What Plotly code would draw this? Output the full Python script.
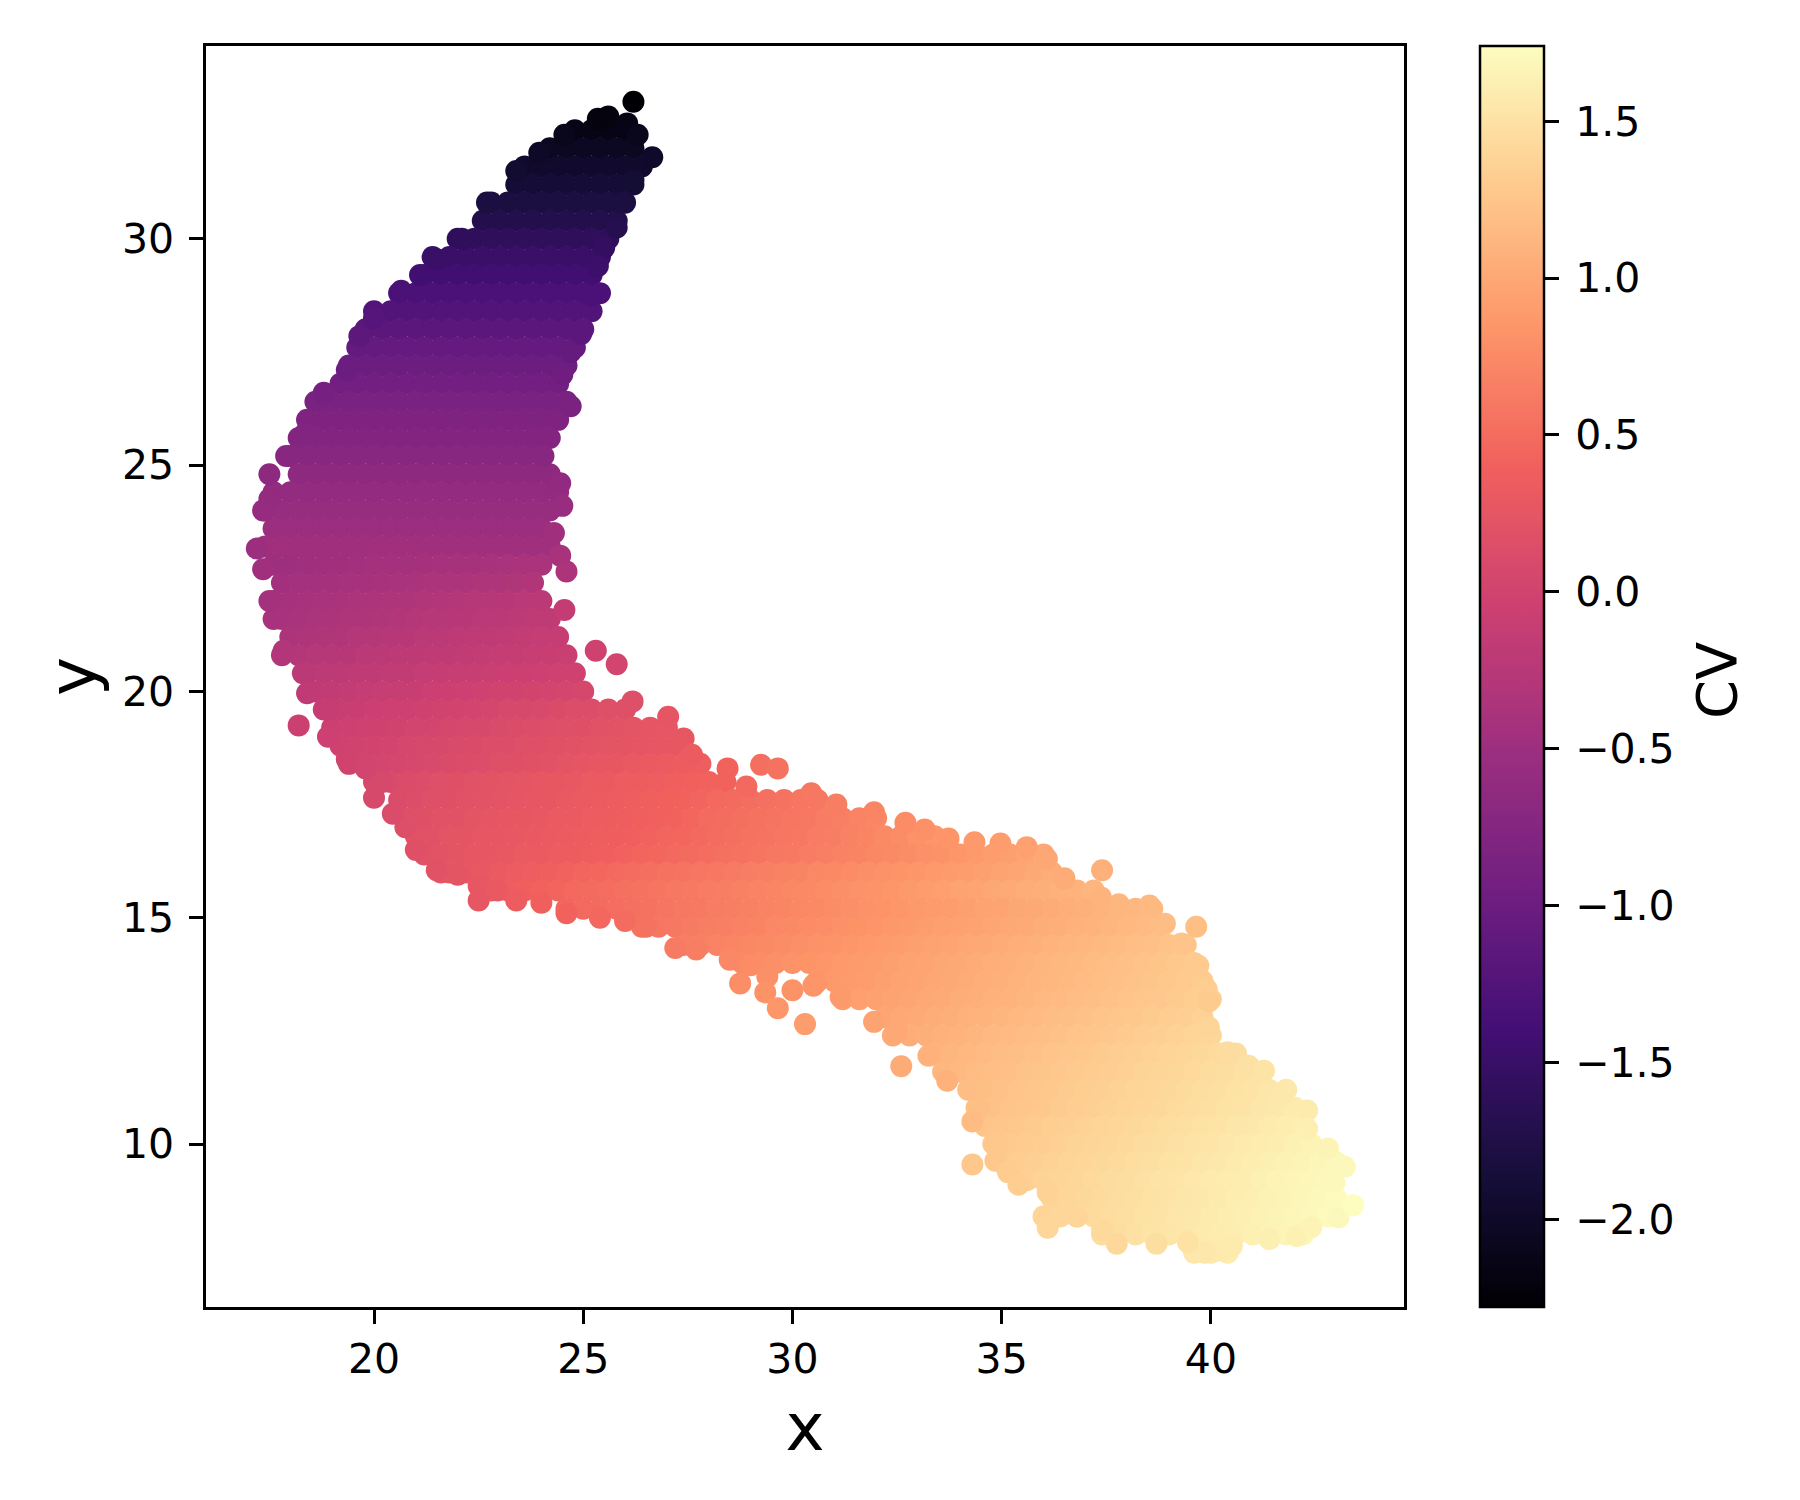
# -*- coding: utf-8 -*-
"""Scatter of x against y, coloured by CV (values read off the picture row by row)."""

import plotly.graph_objects as go

x_ticks = [20, 25, 30, 35, 40]
y_ticks = [10, 15, 20, 25, 30]
cv_ticks = [-2.0, -1.5, -1.0, -0.5, 0.0, 0.5, 1.0, 1.5]

# upper arm: every point of a row has about the same CV
upper_y = [32.4, 32.0, 31.6, 31.2, 30.8, 30.4, 30.0, 29.6, 29.2, 28.8, 28.4, 28.0,
           27.6, 27.2, 26.8, 26.4, 26.0, 25.6, 25.2, 24.8, 24.4, 24.0, 23.6, 23.2]
upper_cv = [-2.15, -2.05, -1.97, -1.88, -1.80, -1.72, -1.60, -1.50, -1.42, -1.32, -1.25, -1.15,
            -1.08, -1.00, -0.93, -0.87, -0.82, -0.77, -0.72, -0.66, -0.61, -0.56, -0.52, -0.47]
upper_x = [
    [24.8, 25.2, 25.6, 26.0],
    [24.2, 24.6, 25.0, 25.4, 25.8, 26.2],
    [23.6, 24.0, 24.4, 24.8, 25.2, 25.6, 26.0, 26.4],
    [23.4, 23.8, 24.2, 24.6, 25.0, 25.4, 25.8, 26.2],
    [22.8, 23.2, 23.6, 24.0, 24.4, 24.8, 25.2, 25.6, 26.0],
    [22.6, 23.0, 23.4, 23.8, 24.2, 24.6, 25.0, 25.4, 25.8],
    [22.0, 22.4, 22.8, 23.2, 23.6, 24.0, 24.4, 24.8, 25.2, 25.6],
    [21.4, 21.8, 22.2, 22.6, 23.0, 23.4, 23.8, 24.2, 24.6, 25.0, 25.4],
    [21.2, 21.6, 22.0, 22.4, 22.8, 23.2, 23.6, 24.0, 24.4, 24.8, 25.2],
    [20.6, 21.0, 21.4, 21.8, 22.2, 22.6, 23.0, 23.4, 23.8, 24.2, 24.6, 25.0, 25.4],
    [20.0, 20.4, 20.8, 21.2, 21.6, 22.0, 22.4, 22.8, 23.2, 23.6, 24.0, 24.4, 24.8, 25.2],
    [19.8, 20.2, 20.6, 21.0, 21.4, 21.8, 22.2, 22.6, 23.0, 23.4, 23.8, 24.2, 24.6, 25.0],
    [19.6, 20.0, 20.4, 20.8, 21.2, 21.6, 22.0, 22.4, 22.8, 23.2, 23.6, 24.0, 24.4, 24.8],
    [19.4, 19.8, 20.2, 20.6, 21.0, 21.4, 21.8, 22.2, 22.6, 23.0, 23.4, 23.8, 24.2, 24.6],
    [19.2, 19.6, 20.0, 20.4, 20.8, 21.2, 21.6, 22.0, 22.4, 22.8, 23.2, 23.6, 24.0, 24.4],
    [18.6, 19.0, 19.4, 19.8, 20.2, 20.6, 21.0, 21.4, 21.8, 22.2, 22.6, 23.0, 23.4, 23.8, 24.2, 24.6],
    [18.4, 18.8, 19.2, 19.6, 20.0, 20.4, 20.8, 21.2, 21.6, 22.0, 22.4, 22.8, 23.2, 23.6, 24.0, 24.4],
    [18.2, 18.6, 19.0, 19.4, 19.8, 20.2, 20.6, 21.0, 21.4, 21.8, 22.2, 22.6, 23.0, 23.4, 23.8, 24.2],
    [18.0, 18.4, 18.8, 19.2, 19.6, 20.0, 20.4, 20.8, 21.2, 21.6, 22.0, 22.4, 22.8, 23.2, 23.6, 24.0],
    [18.2, 18.6, 19.0, 19.4, 19.8, 20.2, 20.6, 21.0, 21.4, 21.8, 22.2, 22.6, 23.0, 23.4, 23.8, 24.2],
    [17.6, 18.0, 18.4, 18.8, 19.2, 19.6, 20.0, 20.4, 20.8, 21.2, 21.6, 22.0, 22.4, 22.8, 23.2, 23.6, 24.0, 24.4],
    [17.4, 17.8, 18.2, 18.6, 19.0, 19.4, 19.8, 20.2, 20.6, 21.0, 21.4, 21.8, 22.2, 22.6, 23.0, 23.4, 23.8, 24.2],
    [17.6, 18.0, 18.4, 18.8, 19.2, 19.6, 20.0, 20.4, 20.8, 21.2, 21.6, 22.0, 22.4, 22.8, 23.2, 23.6, 24.0],
    [17.4, 17.8, 18.2, 18.6, 19.0, 19.4, 19.8, 20.2, 20.6, 21.0, 21.4, 21.8, 22.2, 22.6, 23.0, 23.4, 23.8, 24.2],
]

# bend and lower arm: CV changes along each row
lower_y = [22.8, 22.4, 22.0, 21.6, 21.2, 20.8, 20.4, 20.0, 19.6, 19.2, 18.8, 18.4, 18.0, 17.6, 17.2, 16.8,
           16.4, 16.0, 15.6, 15.2, 14.8, 14.4, 14.0, 13.6, 13.2, 12.8, 12.4, 12.0, 11.6, 11.2, 10.8, 10.4,
           10.0, 9.6, 9.2, 8.8, 8.4, 8.0, 7.6]
lower_x = [
    [17.6, 18.0, 18.4, 18.8, 19.2, 19.6, 20.0, 20.4, 20.8, 21.2, 21.6, 22.0, 22.4, 22.8, 23.2, 23.6, 24.0],
    [17.8, 18.2, 18.6, 19.0, 19.4, 19.8, 20.2, 20.6, 21.0, 21.4, 21.8, 22.2, 22.6, 23.0, 23.4, 23.8],
    [17.6, 18.0, 18.4, 18.8, 19.2, 19.6, 20.0, 20.4, 20.8, 21.2, 21.6, 22.0, 22.4, 22.8, 23.2, 23.6, 24.0],
    [17.8, 18.2, 18.6, 19.0, 19.4, 19.8, 20.2, 20.6, 21.0, 21.4, 21.8, 22.2, 22.6, 23.0, 23.4, 23.8, 24.2],
    [18.0, 18.4, 18.8, 19.2, 19.6, 20.0, 20.4, 20.8, 21.2, 21.6, 22.0, 22.4, 22.8, 23.2, 23.6, 24.0, 24.4],
    [17.8, 18.2, 18.6, 19.0, 19.4, 19.8, 20.2, 20.6, 21.0, 21.4, 21.8, 22.2, 22.6, 23.0, 23.4, 23.8, 24.2, 24.6],
    [18.4, 18.8, 19.2, 19.6, 20.0, 20.4, 20.8, 21.2, 21.6, 22.0, 22.4, 22.8, 23.2, 23.6, 24.0, 24.4, 24.8],
    [18.6, 19.0, 19.4, 19.8, 20.2, 20.6, 21.0, 21.4, 21.8, 22.2, 22.6, 23.0, 23.4, 23.8, 24.2, 24.6, 25.0],
    [18.8, 19.2, 19.6, 20.0, 20.4, 20.8, 21.2, 21.6, 22.0, 22.4, 22.8, 23.2, 23.6, 24.0, 24.4, 24.8, 25.2, 25.6, 26.0],
    [19.0, 19.4, 19.8, 20.2, 20.6, 21.0, 21.4, 21.8, 22.2, 22.6, 23.0, 23.4, 23.8, 24.2, 24.6, 25.0, 25.4, 25.8, 26.2, 26.6, 27.0],
    [19.2, 19.6, 20.0, 20.4, 20.8, 21.2, 21.6, 22.0, 22.4, 22.8, 23.2, 23.6, 24.0, 24.4, 24.8, 25.2, 25.6, 26.0, 26.4, 26.8, 27.2],
    [19.4, 19.8, 20.2, 20.6, 21.0, 21.4, 21.8, 22.2, 22.6, 23.0, 23.4, 23.8, 24.2, 24.6, 25.0, 25.4, 25.8, 26.2, 26.6, 27.0, 27.4, 27.8],
    [20.0, 20.4, 20.8, 21.2, 21.6, 22.0, 22.4, 22.8, 23.2, 23.6, 24.0, 24.4, 24.8, 25.2, 25.6, 26.0, 26.4, 26.8, 27.2, 27.6, 28.0, 28.4],
    [20.6, 21.0, 21.4, 21.8, 22.2, 22.6, 23.0, 23.4, 23.8, 24.2, 24.6, 25.0, 25.4, 25.8, 26.2, 26.6, 27.0, 27.4, 27.8, 28.2, 28.6, 29.0, 29.4, 29.8, 30.2, 30.6],
    [20.8, 21.2, 21.6, 22.0, 22.4, 22.8, 23.2, 23.6, 24.0, 24.4, 24.8, 25.2, 25.6, 26.0, 26.4, 26.8, 27.2, 27.6, 28.0, 28.4, 28.8, 29.2, 29.6, 30.0, 30.4, 30.8, 31.2, 31.6, 32.0],
    [21.0, 21.4, 21.8, 22.2, 22.6, 23.0, 23.4, 23.8, 24.2, 24.6, 25.0, 25.4, 25.8, 26.2, 26.6, 27.0, 27.4, 27.8, 28.2, 28.6, 29.0, 29.4, 29.8, 30.2, 30.6, 31.0, 31.4, 31.8, 32.2, 32.6, 33.0, 33.4],
    [21.2, 21.6, 22.0, 22.4, 22.8, 23.2, 23.6, 24.0, 24.4, 24.8, 25.2, 25.6, 26.0, 26.4, 26.8, 27.2, 27.6, 28.0, 28.4, 28.8, 29.2, 29.6, 30.0, 30.4, 30.8, 31.2, 31.6, 32.0, 32.4, 32.8, 33.2, 33.6, 34.0, 34.4, 34.8, 35.2, 35.6, 36.0],
    [21.6, 21.8, 22.2, 22.6, 23.0, 23.4, 23.8, 24.2, 24.6, 25.0, 25.4, 25.8, 26.2, 26.6, 27.0, 27.4, 27.8, 28.2, 28.6, 29.0, 29.4, 29.8, 30.2, 30.6, 31.0, 31.4, 31.8, 32.2, 32.6, 33.0, 33.4, 33.8, 34.2, 34.6, 35.0, 35.4, 35.8, 36.2],
    [22.8, 23.2, 23.6, 24.0, 24.4, 24.8, 25.2, 25.6, 26.0, 26.4, 26.8, 27.2, 27.6, 28.0, 28.4, 28.8, 29.2, 29.6, 30.0, 30.4, 30.8, 31.2, 31.6, 32.0, 32.4, 32.8, 33.2, 33.6, 34.0, 34.4, 34.8, 35.2, 35.6, 36.0, 36.4, 36.8, 37.2],
    [24.6, 25.0, 25.4, 25.8, 26.2, 26.6, 27.0, 27.4, 27.8, 28.2, 28.6, 29.0, 29.4, 29.8, 30.2, 30.6, 31.0, 31.4, 31.8, 32.2, 32.6, 33.0, 33.4, 33.8, 34.2, 34.6, 35.0, 35.4, 35.8, 36.2, 36.6, 37.0, 37.4, 37.8, 38.2, 38.6],
    [26.4, 26.8, 27.2, 27.6, 28.0, 28.4, 28.8, 29.2, 29.6, 30.0, 30.4, 30.8, 31.2, 31.6, 32.0, 32.4, 32.8, 33.2, 33.6, 34.0, 34.4, 34.8, 35.2, 35.6, 36.0, 36.4, 36.8, 37.2, 37.6, 38.0, 38.4, 38.8],
    [27.4, 27.8, 28.2, 28.6, 29.0, 29.4, 29.8, 30.2, 30.6, 31.0, 31.4, 31.8, 32.2, 32.6, 33.0, 33.4, 33.8, 34.2, 34.6, 35.0, 35.4, 35.8, 36.2, 36.6, 37.0, 37.4, 37.8, 38.2, 38.6, 39.0, 39.4],
    [28.8, 29.2, 29.6, 30.0, 30.4, 30.8, 31.2, 31.6, 32.0, 32.4, 32.8, 33.2, 33.6, 34.0, 34.4, 34.8, 35.2, 35.6, 36.0, 36.4, 36.8, 37.2, 37.6, 38.0, 38.4, 38.8, 39.2, 39.6],
    [30.6, 31.0, 31.4, 31.8, 32.2, 32.6, 33.0, 33.4, 33.8, 34.2, 34.6, 35.0, 35.4, 35.8, 36.2, 36.6, 37.0, 37.4, 37.8, 38.2, 38.6, 39.0, 39.4, 39.8],
    [31.2, 31.6, 32.0, 32.4, 32.8, 33.2, 33.6, 34.0, 34.4, 34.8, 35.2, 35.6, 36.0, 36.4, 36.8, 37.2, 37.6, 38.0, 38.4, 38.8, 39.2, 39.6, 40.0],
    [32.2, 32.6, 33.0, 33.4, 33.8, 34.2, 34.6, 35.0, 35.4, 35.8, 36.2, 36.6, 37.0, 37.4, 37.8, 38.2, 38.6, 39.0, 39.4, 39.8],
    [32.4, 32.8, 33.2, 33.6, 34.0, 34.4, 34.8, 35.2, 35.6, 36.0, 36.4, 36.8, 37.2, 37.6, 38.0, 38.4, 38.8, 39.2, 39.6, 40.0],
    [33.4, 33.8, 34.2, 34.6, 35.0, 35.4, 35.8, 36.2, 36.6, 37.0, 37.4, 37.8, 38.2, 38.6, 39.0, 39.4, 39.8, 40.2, 40.6],
    [33.6, 34.0, 34.4, 34.8, 35.2, 35.6, 36.0, 36.4, 36.8, 37.2, 37.6, 38.0, 38.4, 38.8, 39.2, 39.6, 40.0, 40.4, 40.8, 41.2],
    [34.2, 34.6, 35.0, 35.4, 35.8, 36.2, 36.6, 37.0, 37.4, 37.8, 38.2, 38.6, 39.0, 39.4, 39.8, 40.2, 40.6, 41.0, 41.4, 41.8],
    [34.4, 34.8, 35.2, 35.6, 36.0, 36.4, 36.8, 37.2, 37.6, 38.0, 38.4, 38.8, 39.2, 39.6, 40.0, 40.4, 40.8, 41.2, 41.6, 42.0],
    [34.6, 35.0, 35.4, 35.8, 36.2, 36.6, 37.0, 37.4, 37.8, 38.2, 38.6, 39.0, 39.4, 39.8, 40.2, 40.6, 41.0, 41.4, 41.8, 42.2],
    [34.8, 35.2, 35.6, 36.0, 36.4, 36.8, 37.2, 37.6, 38.0, 38.4, 38.8, 39.2, 39.6, 40.0, 40.4, 40.8, 41.2, 41.6, 42.0, 42.4],
    [35.0, 35.4, 35.8, 36.2, 36.6, 37.0, 37.4, 37.8, 38.2, 38.6, 39.0, 39.4, 39.8, 40.2, 40.6, 41.0, 41.4, 41.8, 42.2, 42.6, 43.0],
    [35.6, 36.0, 36.4, 36.8, 37.2, 37.6, 38.0, 38.4, 38.8, 39.2, 39.6, 40.0, 40.4, 40.8, 41.2, 41.6, 42.0, 42.4, 42.8],
    [36.2, 36.6, 37.0, 37.4, 37.8, 38.2, 38.6, 39.0, 39.4, 39.8, 40.2, 40.6, 41.0, 41.4, 41.8, 42.2, 42.6, 43.0],
    [36.0, 36.4, 36.8, 37.2, 37.6, 38.0, 38.4, 38.8, 39.2, 39.6, 40.0, 40.4, 40.8, 41.2, 41.6, 42.0, 42.4, 42.8],
    [37.4, 37.8, 38.2, 38.6, 39.0, 39.4, 39.8, 40.2, 40.6, 41.0, 41.4, 41.8, 42.2],
    [39.6, 40.0, 40.4],
]
lower_cv = [
    [-.50, -.49, -.48, -.47, -.47, -.46, -.45, -.44, -.44, -.43, -.42, -.41, -.41, -.40, -.39, -.38, -.38],
    [-.46, -.45, -.44, -.43, -.42, -.41, -.40, -.39, -.38, -.37, -.36, -.35, -.34, -.33, -.32, -.31],
    [-.43, -.42, -.40, -.39, -.38, -.36, -.35, -.34, -.33, -.31, -.30, -.29, -.27, -.26, -.25, -.23, -.22],
    [-.40, -.39, -.37, -.36, -.34, -.33, -.32, -.30, -.29, -.27, -.26, -.25, -.23, -.22, -.20, -.19, -.18],
    [-.35, -.34, -.32, -.31, -.29, -.28, -.26, -.25, -.23, -.22, -.20, -.19, -.17, -.16, -.14, -.13, -.12],
    [-.30, -.29, -.27, -.26, -.25, -.23, -.22, -.21, -.20, -.18, -.17, -.16, -.14, -.13, -.12, -.11, -.09, -.08],
    [-.22, -.21, -.20, -.18, -.17, -.16, -.15, -.13, -.12, -.11, -.10, -.08, -.07, -.06, -.05, -.03, -.02],
    [-.17, -.16, -.14, -.13, -.11, -.10, -.09, -.07, -.06, -.04, -.03, -.01, .00, .01, .03, .04, .05],
    [-.12, -.10, -.09, -.07, -.05, -.04, -.02, -.01, .01, .03, .04, .06, .08, .09, .11, .13, .14, .16, .18],
    [-.07, -.05, -.03, -.02, .00, .02, .03, .05, .07, .08, .10, .12, .13, .15, .17, .18, .20, .22, .23, .25, .26],
    [-.02, .00, .01, .03, .05, .06, .08, .10, .11, .13, .14, .16, .18, .19, .21, .22, .23, .24, .25, .26, .28],
    [.00, .02, .04, .05, .07, .09, .11, .12, .14, .16, .18, .19, .21, .23, .25, .26, .28, .30, .32, .33, .35, .36],
    [.08, .10, .12, .14, .16, .18, .20, .22, .23, .25, .26, .28, .29, .31, .32, .34, .35, .36, .38, .40, .41, .42],
    [.12, .14, .16, .18, .20, .22, .23, .25, .27, .28, .30, .31, .33, .34, .36, .38, .40, .42, .44, .47, .49, .51, .53, .55, .58, .60],
    [.16, .18, .20, .21, .23, .25, .26, .28, .29, .31, .32, .34, .35, .36, .38, .40, .42, .45, .48, .50, .52, .54, .56, .58, .60, .63, .66, .69, .72],
    [.20, .21, .23, .24, .26, .27, .29, .30, .32, .33, .34, .36, .37, .39, .41, .43, .45, .47, .50, .52, .54, .56, .58, .60, .63, .65, .68, .71, .74, .77, .81, .85],
    [.20, .22, .24, .26, .27, .29, .31, .32, .34, .35, .37, .39, .41, .43, .45, .47, .49, .51, .53, .55, .57, .59, .61, .63, .66, .68, .70, .73, .75, .77, .80, .82, .85, .88, .90, .93, .97, 1.00],
    [.24, .25, .27, .29, .31, .34, .36, .38, .41, .43, .45, .47, .50, .52, .54, .56, .58, .60, .62, .64, .66, .68, .70, .72, .74, .76, .79, .81, .83, .85, .87, .89, .91, .93, .96, .98, 1.01, 1.04],
    [.33, .36, .39, .42, .44, .47, .49, .51, .53, .55, .57, .59, .61, .63, .65, .67, .69, .71, .73, .75, .77, .79, .81, .83, .85, .88, .90, .92, .95, .97, .99, 1.02, 1.04, 1.06, 1.08, 1.10, 1.12],
    [.45, .47, .49, .51, .53, .55, .57, .59, .61, .63, .65, .67, .69, .71, .73, .75, .77, .79, .81, .83, .85, .87, .89, .91, .93, .95, .97, .99, 1.01, 1.03, 1.05, 1.07, 1.09, 1.11, 1.13, 1.15],
    [.56, .58, .60, .62, .64, .66, .68, .70, .72, .74, .76, .78, .80, .82, .84, .86, .88, .90, .92, .94, .96, .98, 1.00, 1.02, 1.04, 1.06, 1.08, 1.10, 1.12, 1.14, 1.16, 1.18],
    [.65, .67, .69, .71, .73, .75, .77, .79, .81, .83, .85, .87, .89, .91, .93, .95, .97, .99, 1.01, 1.03, 1.05, 1.07, 1.09, 1.11, 1.13, 1.15, 1.17, 1.19, 1.21, 1.23, 1.25],
    [.75, .77, .79, .81, .83, .85, .87, .89, .91, .93, .95, .97, .99, 1.01, 1.03, 1.05, 1.07, 1.09, 1.11, 1.13, 1.15, 1.17, 1.19, 1.21, 1.23, 1.25, 1.28, 1.30],
    [.85, .87, .89, .91, .93, .95, .97, .99, 1.01, 1.03, 1.05, 1.07, 1.09, 1.11, 1.13, 1.15, 1.17, 1.19, 1.21, 1.23, 1.25, 1.27, 1.29, 1.31],
    [.90, .92, .94, .96, .98, 1.00, 1.02, 1.04, 1.06, 1.08, 1.10, 1.12, 1.14, 1.16, 1.18, 1.20, 1.22, 1.24, 1.26, 1.28, 1.30, 1.32, 1.34],
    [.98, 1.00, 1.02, 1.04, 1.06, 1.08, 1.10, 1.12, 1.14, 1.16, 1.18, 1.20, 1.22, 1.24, 1.26, 1.28, 1.30, 1.32, 1.34, 1.36],
    [1.02, 1.04, 1.06, 1.08, 1.10, 1.12, 1.14, 1.16, 1.18, 1.20, 1.22, 1.24, 1.26, 1.28, 1.30, 1.32, 1.34, 1.36, 1.38, 1.40],
    [1.10, 1.12, 1.14, 1.16, 1.18, 1.20, 1.22, 1.24, 1.26, 1.28, 1.30, 1.32, 1.34, 1.36, 1.38, 1.40, 1.42, 1.44, 1.46],
    [1.13, 1.15, 1.17, 1.19, 1.21, 1.23, 1.25, 1.27, 1.29, 1.31, 1.33, 1.35, 1.37, 1.39, 1.41, 1.43, 1.45, 1.47, 1.49, 1.51],
    [1.18, 1.20, 1.22, 1.24, 1.26, 1.28, 1.30, 1.32, 1.34, 1.36, 1.38, 1.40, 1.42, 1.44, 1.46, 1.48, 1.50, 1.52, 1.54, 1.56],
    [1.20, 1.22, 1.24, 1.26, 1.28, 1.30, 1.32, 1.34, 1.36, 1.38, 1.40, 1.42, 1.44, 1.46, 1.48, 1.50, 1.52, 1.54, 1.56, 1.58],
    [1.24, 1.26, 1.28, 1.30, 1.32, 1.34, 1.36, 1.38, 1.40, 1.42, 1.44, 1.46, 1.48, 1.50, 1.52, 1.54, 1.56, 1.58, 1.60, 1.62],
    [1.27, 1.29, 1.31, 1.33, 1.35, 1.37, 1.39, 1.41, 1.43, 1.45, 1.47, 1.49, 1.51, 1.53, 1.55, 1.57, 1.59, 1.61, 1.63, 1.65],
    [1.30, 1.32, 1.34, 1.36, 1.38, 1.40, 1.42, 1.44, 1.46, 1.48, 1.50, 1.52, 1.54, 1.56, 1.58, 1.60, 1.62, 1.64, 1.66, 1.68, 1.70],
    [1.35, 1.37, 1.39, 1.41, 1.43, 1.45, 1.47, 1.49, 1.51, 1.53, 1.55, 1.57, 1.59, 1.61, 1.63, 1.65, 1.67, 1.69, 1.70],
    [1.38, 1.40, 1.42, 1.44, 1.46, 1.48, 1.50, 1.52, 1.54, 1.56, 1.58, 1.60, 1.62, 1.64, 1.66, 1.68, 1.70, 1.72],
    [1.38, 1.40, 1.42, 1.44, 1.46, 1.48, 1.50, 1.52, 1.54, 1.56, 1.58, 1.60, 1.62, 1.64, 1.66, 1.68, 1.70, 1.71],
    [1.45, 1.47, 1.49, 1.51, 1.53, 1.55, 1.57, 1.59, 1.61, 1.63, 1.65, 1.67, 1.68],
    [1.55, 1.57, 1.59],
]

# points along the outline of the cloud
edge_x = [26.18, 27.03, 27.4, 27.6, 28.9, 30.45, 31.05, 31.95, 32.7, 33.16, 33.73, 34.35, 34.97, 35.6, 36.08, 36.5,
          37.37, 37.8, 38.53, 38.9, 39.3, 39.7, 39.9, 39.95, 40.4, 40.9, 41.27, 41.7, 42.3, 42.3, 42.8, 42.95,
          30.55, 31.95, 32.5, 33.25, 34.45, 34.9, 34.85, 35.15, 35.4, 36.1, 36.8, 37.4, 40.2, 39.85, 40.5,
          26.0, 26.5, 27.2, 27.7, 28.5, 29.0, 29.4, 30.0, 30.5, 25.4, 24.6,
          17.84, 18.3, 18.4, 18.9, 19.35, 19.8, 20.2, 20.75, 22.1, 21.1, 19.35, 18.35, 17.6,
          26.2, 25.8, 25.5, 25.35, 25.2, 24.95, 24.7, 24.5, 24.1, 24.05, 24.3]
edge_y = [19.78, 19.44, 18.96, 18.6, 17.9, 17.75, 17.5, 17.33, 17.1, 16.95, 16.75, 16.67, 16.64, 16.56, 16.3, 15.87,
          15.45, 15.3, 15.27, 14.87, 14.43, 13.94, 13.42, 12.58, 12.03, 11.73, 11.62, 11.07, 10.74, 10.34, 9.9, 9.15,
          13.55, 12.7, 12.47, 11.95, 10.78, 10.0, 9.63, 9.38, 9.1, 8.93, 8.4, 8.1, 7.65, 7.6, 7.75,
          14.93, 14.8, 14.33, 14.3, 14.07, 13.95, 13.7, 13.4, 13.5, 15.0, 15.1,
          20.9, 20.4, 19.96, 19.6, 18.5, 18.3, 18.0, 17.0, 30.0, 29.2, 27.1, 25.7, 21.6,
          31.3, 30.25, 29.8, 29.4, 28.75, 27.9, 27.5, 27.0, 25.6, 25.2, 23.5]
edge_cv = [.16, .25, .28, .33, .47, .60, .64, .71, .76, .80, .84, .87, .90, .94, .99, 1.03,
           1.10, 1.12, 1.15, 1.18, 1.24, 1.29, 1.32, 1.39, 1.45, 1.49, 1.51, 1.56, 1.58, 1.62, 1.66, 1.70,
           .84, .96, 1.00, 1.08, 1.20, 1.27, 1.28, 1.31, 1.33, 1.36, 1.40, 1.43, 1.57, 1.55, 1.58,
           .50, .55, .62, .65, .72, .76, .79, .82, .84, .46, .42,
           -.30, -.22, -.17, -.12, .00, .02, .06, .15, -1.60, -1.42, -1.00, -.78, -.40,
           -1.90, -1.70, -1.55, -1.47, -1.32, -1.15, -1.07, -.97, -.77, -.72, -.47]

# stray points and edge bumps
extra_x = [26.2, 25.35, 25.6, 26.05, 26.3, 26.65, 24.55, 23.95, 23.4, 22.7, 25.95, 21.5, 20.65, 20.0, 19.65, 18.8, 17.9,
           17.5, 17.5, 17.35, 17.2, 17.35, 17.5, 24.7, 24.45, 24.5, 24.45, 24.6, 24.55, 25.3, 25.8, 18.2, 18.9, 20.0,
           20.45, 21.0, 21.5, 22.0, 22.5, 22.5, 22.95, 23.4, 24.0, 29.25, 29.65, 28.45, 28.75, 29.35, 29.65, 30.3,
           31.15, 32.6, 37.4, 39.65, 39.95, 34.3, 34.3, 33.7, 36.1, 37.75, 38.7, 39.45, 41.4, 42.05, 42.4, 43.05,
           43.4, 43.2]
extra_y = [33.03, 32.65, 32.7, 32.55, 32.3, 31.8, 32.3, 31.9, 31.5, 30.8, 30.8, 29.55, 28.85, 28.25, 27.85, 26.6, 25.2,
           24.8, 24.25, 24.0, 23.16, 22.7, 22.0, 26.3, 24.6, 24.1, 23.0, 22.65, 21.8, 20.9, 20.6, 19.25, 19.0, 17.65,
           17.3, 16.5, 16.05, 15.95, 15.7, 15.38, 15.6, 15.38, 15.33, 18.38, 18.3, 18.3, 13.55, 13.35, 13.0, 12.65,
           13.25, 11.72, 16.05, 14.8, 13.15, 9.55, 10.5, 11.4, 8.15, 7.8, 7.8, 7.83, 7.9, 7.97, 8.16, 8.38,
           8.65, 9.5]
extra_cv = [-2.28, -2.2, -2.2, -2.15, -2.1, -1.98, -2.1, -2.0, -1.93, -1.8, -1.8, -1.5, -1.33, -1.22, -1.14, -0.9, -0.72,
            -0.66, -0.6, -0.58, -0.52, -0.47, -0.44, -0.85, -0.63, -0.55, -0.4, -0.35, -0.14, -0.02, 0.02, -0.06, -0.04, 0.08,
            0.12, 0.18, 0.2, 0.24, 0.27, 0.27, 0.3, 0.34, 0.38, 0.52, 0.55, 0.42, 0.78, 0.82, 0.85, 0.9,
            0.88, 1.03, 1.07, 1.2, 1.3, 1.27, 1.17, 1.08, 1.4, 1.42, 1.47, 1.5, 1.62, 1.63, 1.65, 1.7,
            1.74, 1.7]

xs, ys, cvs = [], [], []
for row_y, row_x, row_cv in zip(upper_y, upper_x, upper_cv):
    xs += row_x
    ys += [row_y] * len(row_x)
    cvs += [row_cv] * len(row_x)
for row_y, row_x, row_cv in zip(lower_y, lower_x, lower_cv):
    xs += row_x
    ys += [row_y] * len(row_x)
    cvs += [row_cv[min(i, len(row_cv) - 1)] for i in range(len(row_x))]
xs += edge_x + extra_x
ys += edge_y + extra_y
cvs += edge_cv + extra_cv

FONT = 'DejaVu Sans'

fig = go.Figure()
fig.add_trace(go.Scatter(
    x=xs, y=ys, mode='markers',
    marker=dict(
        size=22, color=cvs, colorscale='Magma', cmin=-2.28, cmax=1.74,
        line=dict(width=0),
        colorbar=dict(
            x=1472 / 1800, xanchor='left', xpad=0, y=1 - 668.5 / 1500, yanchor='middle', ypad=0,
            len=1261 / 1500, lenmode='fraction', thickness=64, thicknessmode='pixels',
            outlinecolor='black', outlinewidth=2.5,
            tickmode='array', tickvals=cv_ticks,
            ticktext=['\u2009\u22122.0', '\u2009\u22121.5', '\u2009\u22121.0', '\u2009\u22120.5',
                      '\u20090.0', '\u20090.5', '\u20091.0', '\u20091.5'],
            ticks='outside', ticklen=14, tickwidth=2.5, tickcolor='black',
            tickfont=dict(family=FONT, size=41, color='black'),
        ),
    ),
    showlegend=False,
))

axis_style = dict(
    showgrid=False, zeroline=False, showline=True, mirror=True,
    linecolor='black', linewidth=2.5,
    ticks='outside', ticklen=14, tickwidth=2.5, tickcolor='black',
    tickfont=dict(family=FONT, size=41, color='black'),
)

fig.update_layout(
    width=1800, height=1500,
    margin=dict(l=0, r=0, t=0, b=0, autoexpand=False),
    plot_bgcolor='white', paper_bgcolor='white',
    xaxis=dict(domain=[198 / 1800, 1396 / 1800], range=[15.985, 44.615], tickvals=x_ticks,
               title=dict(text='x', font=dict(family=FONT, size=66, color='black'), standoff=22), **axis_style),
    yaxis=dict(domain=[201 / 1500, 1462 / 1500], range=[6.4, 34.26], tickvals=y_ticks, ticklabelstandoff=7,
               title=dict(text='y', font=dict(family=FONT, size=66, color='black'), standoff=5), **axis_style),
    annotations=[dict(
        text='CV', textangle=-90, showarrow=False,
        xref='paper', yref='paper', x=1708 / 1800, y=1 - 673 / 1500, xanchor='center', yanchor='middle',
        font=dict(family=FONT, size=56, color='black'),
    )],
)

fig.write_html("out.html")
